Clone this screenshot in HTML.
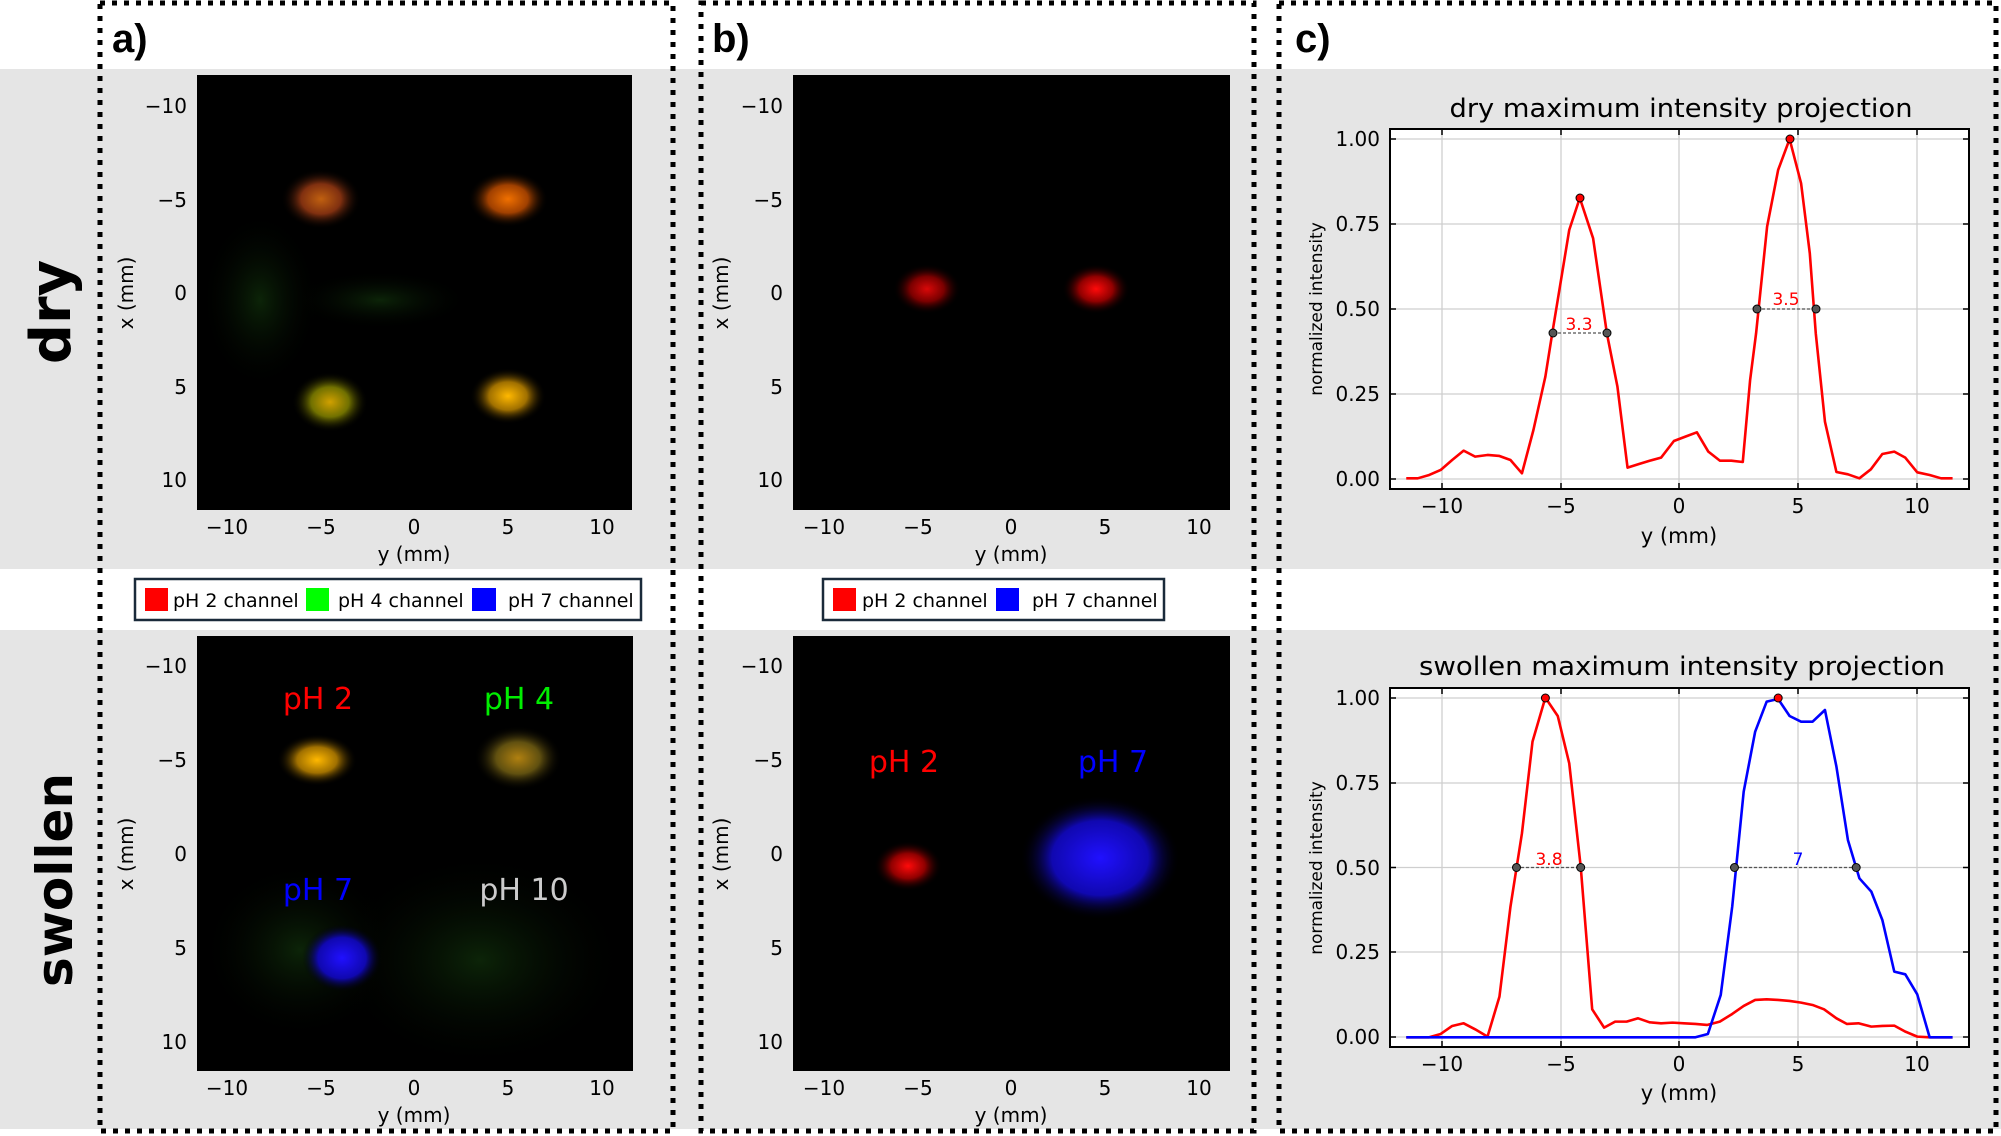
<!DOCTYPE html>
<html><head><meta charset="utf-8"><style>
html,body{margin:0;padding:0;background:#fff;}
svg{display:block;}
text{font-family:"DejaVu Sans","Liberation Sans",sans-serif;}
</style></head><body>
<svg width="2001" height="1136" viewBox="0 0 2001 1136" xmlns="http://www.w3.org/2000/svg">
<defs>
<radialGradient id="gOr"><stop offset="0" stop-color="#f07000"/><stop offset="0.5" stop-color="#a04000"/><stop offset="1" stop-color="#000" stop-opacity="0"/></radialGradient>
<radialGradient id="gOr2"><stop offset="0" stop-color="#c06010"/><stop offset="0.5" stop-color="#803010"/><stop offset="1" stop-color="#000" stop-opacity="0"/></radialGradient>
<radialGradient id="gYe"><stop offset="0" stop-color="#ffb800"/><stop offset="0.5" stop-color="#a07000"/><stop offset="1" stop-color="#000" stop-opacity="0"/></radialGradient>
<radialGradient id="gYe2"><stop offset="0" stop-color="#d0a000"/><stop offset="0.5" stop-color="#707000"/><stop offset="1" stop-color="#000" stop-opacity="0"/></radialGradient>
<radialGradient id="gOl"><stop offset="0" stop-color="#b08010"/><stop offset="0.5" stop-color="#605010"/><stop offset="1" stop-color="#000" stop-opacity="0"/></radialGradient>
<radialGradient id="gR"><stop offset="0" stop-color="#ff0a0a"/><stop offset="0.5" stop-color="#900000"/><stop offset="1" stop-color="#000" stop-opacity="0"/></radialGradient>
<radialGradient id="gB"><stop offset="0" stop-color="#2010ff"/><stop offset="0.6" stop-color="#1008b0"/><stop offset="1" stop-color="#000" stop-opacity="0"/></radialGradient>
<radialGradient id="gG"><stop offset="0" stop-color="#0c2408"/><stop offset="1" stop-color="#000" stop-opacity="0"/></radialGradient>
<clipPath id="cA1"><rect x="197" y="75" width="435" height="435"/></clipPath>
<clipPath id="cA2"><rect x="197" y="636" width="436" height="435"/></clipPath>
</defs>
<rect x="0" y="69" width="2001" height="500" fill="#e5e5e5"/>
<rect x="0" y="630" width="2001" height="499" fill="#e5e5e5"/>

<rect x="197" y="75" width="435" height="435" fill="#000"/>
<g clip-path="url(#cA1)">
<ellipse cx="260" cy="300" rx="60" ry="90" fill="url(#gG)"/>
<ellipse cx="380" cy="300" rx="90" ry="30" fill="url(#gG)"/>
<ellipse cx="321" cy="199" rx="40" ry="30" fill="url(#gOr2)"/>
<ellipse cx="508" cy="199" rx="40" ry="28" fill="url(#gOr)"/>
<ellipse cx="330" cy="402" rx="38" ry="30" fill="url(#gYe2)"/>
<ellipse cx="508" cy="396" rx="38" ry="28" fill="url(#gYe)"/>
</g>
<rect x="793" y="75" width="437" height="435" fill="#000"/>
<ellipse cx="927" cy="289" rx="34" ry="25" fill="url(#gR)" opacity="0.85"/>
<ellipse cx="1096" cy="289" rx="34" ry="25" fill="url(#gR)"/>
<rect x="197" y="636" width="436" height="435" fill="#000"/>
<g clip-path="url(#cA2)">
<ellipse cx="480" cy="960" rx="150" ry="110" fill="url(#gG)"/>
<ellipse cx="300" cy="950" rx="100" ry="90" fill="url(#gG)"/>
<ellipse cx="317" cy="760" rx="40" ry="26" fill="url(#gYe)"/>
<ellipse cx="518" cy="758" rx="44" ry="32" fill="url(#gOl)"/>
<ellipse cx="342" cy="958" rx="40" ry="34" fill="url(#gB)"/>
</g>
<rect x="793" y="636" width="437" height="435" fill="#000"/>
<ellipse cx="908" cy="866" rx="34" ry="25" fill="url(#gR)"/>
<ellipse cx="1100" cy="858" rx="80" ry="62" fill="url(#gB)"/>

<g font-size="20" fill="#000">
<g text-anchor="end">
<text x="187" y="113">−10</text><text x="187" y="207">−5</text><text x="187" y="300">0</text><text x="187" y="394">5</text><text x="187" y="487">10</text>
<text x="783" y="113">−10</text><text x="783" y="207">−5</text><text x="783" y="300">0</text><text x="783" y="394">5</text><text x="783" y="487">10</text>
<text x="187" y="673">−10</text><text x="187" y="767">−5</text><text x="187" y="861">0</text><text x="187" y="955">5</text><text x="187" y="1049">10</text>
<text x="783" y="673">−10</text><text x="783" y="767">−5</text><text x="783" y="861">0</text><text x="783" y="955">5</text><text x="783" y="1049">10</text>
</g>
<g text-anchor="middle">
<text x="227" y="534">−10</text><text x="321" y="534">−5</text><text x="414" y="534">0</text><text x="508" y="534">5</text><text x="602" y="534">10</text>
<text x="824" y="534">−10</text><text x="918" y="534">−5</text><text x="1011" y="534">0</text><text x="1105" y="534">5</text><text x="1199" y="534">10</text>
<text x="227" y="1095">−10</text><text x="321" y="1095">−5</text><text x="414" y="1095">0</text><text x="508" y="1095">5</text><text x="602" y="1095">10</text>
<text x="824" y="1095">−10</text><text x="918" y="1095">−5</text><text x="1011" y="1095">0</text><text x="1105" y="1095">5</text><text x="1199" y="1095">10</text>
<text x="414" y="561">y (mm)</text><text x="1011" y="561">y (mm)</text>
<text x="414" y="1122">y (mm)</text><text x="1011" y="1122">y (mm)</text>
<text transform="translate(133,293) rotate(-90)">x (mm)</text>
<text transform="translate(728,293) rotate(-90)">x (mm)</text>
<text transform="translate(133,854) rotate(-90)">x (mm)</text>
<text transform="translate(728,854) rotate(-90)">x (mm)</text>
</g>
</g>
<g font-size="30" text-anchor="middle">
<text x="318" y="709" fill="#ff0000">pH 2</text>
<text x="519" y="709" fill="#00ee00">pH 4</text>
<text x="318" y="900" fill="#0000ff">pH 7</text>
<text x="524" y="900" fill="#cccccc">pH 10</text>
<text x="904" y="772" fill="#ff0000">pH 2</text>
<text x="1113" y="772" fill="#0000ff">pH 7</text>
</g>

<rect x="135" y="579" width="506" height="41" fill="#fff" stroke="#1a2a3a" stroke-width="2.5"/>
<rect x="145" y="588" width="23" height="23" fill="#ff0000"/>
<rect x="306" y="588" width="23" height="23" fill="#00ff00"/>
<rect x="472" y="588" width="24" height="23" fill="#0000ff"/>
<g font-size="19" fill="#000">
<text x="173" y="607">pH 2 channel</text>
<text x="338" y="607">pH 4 channel</text>
<text x="508" y="607">pH 7 channel</text>
</g>
<rect x="823" y="579" width="341" height="41" fill="#fff" stroke="#1a2a3a" stroke-width="2.5"/>
<rect x="833" y="588" width="23" height="23" fill="#ff0000"/>
<rect x="996" y="588" width="23" height="23" fill="#0000ff"/>
<g font-size="19" fill="#000">
<text x="862" y="607">pH 2 channel</text>
<text x="1032" y="607">pH 7 channel</text>
</g>

<text transform="translate(70,312) rotate(-90)" font-size="56" font-weight="bold" text-anchor="middle">dry</text>
<text transform="translate(72,880) rotate(-90)" font-size="50" font-weight="bold" text-anchor="middle">swollen</text>

<g font-size="40" font-weight="bold">
<text x="112" y="52" style="font-family:'Liberation Sans',sans-serif">a)</text>
<text x="712" y="52" style="font-family:'Liberation Sans',sans-serif">b)</text>
<text x="1295" y="52" style="font-family:'Liberation Sans',sans-serif">c)</text>
</g>

<rect x="1390" y="129" width="579" height="360" fill="#fff"/>
<g stroke="#cfcfcf" stroke-width="1.3">
<line x1="1442" y1="129" x2="1442" y2="489"/><line x1="1561" y1="129" x2="1561" y2="489"/><line x1="1679" y1="129" x2="1679" y2="489"/><line x1="1798" y1="129" x2="1798" y2="489"/><line x1="1917" y1="129" x2="1917" y2="489"/>
<line x1="1390" y1="479" x2="1969" y2="479"/><line x1="1390" y1="394" x2="1969" y2="394"/><line x1="1390" y1="309" x2="1969" y2="309"/><line x1="1390" y1="224" x2="1969" y2="224"/><line x1="1390" y1="139" x2="1969" y2="139"/>
</g>
<g stroke="#000" stroke-width="1.5">
<path d="M1442 129v6M1561 129v6M1679 129v6M1798 129v6M1917 129v6M1442 489v-6M1561 489v-6M1679 489v-6M1798 489v-6M1917 489v-6M1390 479h6M1390 394h6M1390 309h6M1390 224h6M1390 139h6M1969 479h-6M1969 394h-6M1969 309h-6M1969 224h-6M1969 139h-6"/>
</g>
<rect x="1390" y="129" width="579" height="360" fill="none" stroke="#000" stroke-width="2"/>
<g transform="translate(1280,280) scale(0.4591,0.3333)">
<polyline fill="none" stroke="#ff0000" stroke-width="2.6" vector-effect="non-scaling-stroke" stroke-linejoin="round" points="275,595 300,595 325,585 350,570 375,540 400,512 425,530 452,525 478,528 502,540 527,580 552,450 578,290 593,160 630,-150 653,-246 682,-125 712,160 735,320 757,563 782,552 806,542 830,533 858,483 883,470 908,457 933,515 958,542 983,542 1008,546 1024,300 1037,160 1061,-160 1085,-330 1110,-423 1135,-290 1154,-80 1167,160 1187,425 1212,576 1237,583 1262,595 1287,568 1312,522 1338,515 1362,533 1388,577 1415,585 1440,595 1465,595"/>
</g>
<g stroke="#555" stroke-width="1.3" stroke-dasharray="3,2"><line x1="1553" y1="333" x2="1607" y2="333"/><line x1="1757" y1="309" x2="1816" y2="309"/></g>
<g fill="#555" stroke="#000" stroke-width="1">
<circle cx="1553" cy="333" r="4"/><circle cx="1607" cy="333" r="4"/><circle cx="1757" cy="309" r="4"/><circle cx="1816" cy="309" r="4"/>
</g>
<g fill="#ff0000" stroke="#000" stroke-width="1"><circle cx="1580" cy="198" r="4"/><circle cx="1790" cy="139" r="4"/></g>
<g font-size="17" fill="#ff0000" text-anchor="middle"><text x="1579" y="330">3.3</text><text x="1786" y="305">3.5</text></g>
<g font-size="20" fill="#000">
<g text-anchor="end"><text x="1380" y="486">0.00</text><text x="1380" y="401">0.25</text><text x="1380" y="316">0.50</text><text x="1380" y="231">0.75</text><text x="1380" y="146">1.00</text></g>
<g text-anchor="middle"><text x="1442" y="513">−10</text><text x="1561" y="513">−5</text><text x="1679" y="513">0</text><text x="1798" y="513">5</text><text x="1917" y="513">10</text>
<text x="1679" y="543" font-size="21">y (mm)</text>
<text x="1681" y="117" font-size="26" textLength="463" lengthAdjust="spacingAndGlyphs">dry maximum intensity projection</text>
<text transform="translate(1322,309) rotate(-90)" font-size="17">normalized intensity</text></g>
</g>

<rect x="1390" y="688" width="579" height="359" fill="#fff"/>
<g stroke="#cfcfcf" stroke-width="1.3">
<line x1="1442" y1="688" x2="1442" y2="1047"/><line x1="1561" y1="688" x2="1561" y2="1047"/><line x1="1679" y1="688" x2="1679" y2="1047"/><line x1="1798" y1="688" x2="1798" y2="1047"/><line x1="1917" y1="688" x2="1917" y2="1047"/>
<line x1="1390" y1="1037" x2="1969" y2="1037"/><line x1="1390" y1="952" x2="1969" y2="952"/><line x1="1390" y1="867.5" x2="1969" y2="867.5"/><line x1="1390" y1="783" x2="1969" y2="783"/><line x1="1390" y1="698" x2="1969" y2="698"/>
</g>
<g stroke="#000" stroke-width="1.5">
<path d="M1442 688v6M1561 688v6M1679 688v6M1798 688v6M1917 688v6M1442 1047v-6M1561 1047v-6M1679 1047v-6M1798 1047v-6M1917 1047v-6M1390 1037h6M1390 952h6M1390 867.5h6M1390 783h6M1390 698h6M1969 1037h-6M1969 952h-6M1969 867.5h-6M1969 783h-6M1969 698h-6"/>
</g>
<rect x="1390" y="688" width="579" height="359" fill="none" stroke="#000" stroke-width="2"/>
<g transform="translate(1280,640) scale(0.4591,0.3333)">
<polyline fill="none" stroke="#ff0000" stroke-width="2.6" vector-effect="non-scaling-stroke" stroke-linejoin="round" points="275,1192 325,1192 350,1182 375,1158 400,1150 425,1168 452,1190 478,1070 502,800 527,580 550,305 578,173 605,228 630,370 655,680 680,1108 706,1163 730,1145 755,1145 780,1135 805,1147 830,1150 855,1148 880,1150 905,1152 930,1155 958,1145 985,1122 1010,1098 1035,1080 1060,1078 1085,1080 1110,1083 1135,1088 1160,1095 1185,1108 1212,1135 1235,1152 1260,1150 1288,1160 1312,1158 1338,1157 1362,1175 1388,1190 1415,1192 1465,1192"/>
<polyline fill="none" stroke="#0000ff" stroke-width="2.6" vector-effect="non-scaling-stroke" stroke-linejoin="round" points="275,1192 905,1192 932,1182 960,1065 985,800 1010,455 1035,275 1060,185 1085,177 1110,228 1135,245 1160,245 1187,210 1212,380 1237,600 1262,715 1288,755 1312,840 1338,995 1362,1003 1388,1063 1415,1192 1465,1192"/>
</g>
<g stroke="#555" stroke-width="1.3" stroke-dasharray="3,2"><line x1="1516" y1="867.5" x2="1581" y2="867.5"/><line x1="1734" y1="867.5" x2="1856" y2="867.5"/></g>
<g fill="#555" stroke="#000" stroke-width="1">
<circle cx="1516.5" cy="867.5" r="4"/><circle cx="1580.7" cy="867.5" r="4"/><circle cx="1734.5" cy="867.5" r="4"/><circle cx="1856.2" cy="867.5" r="4"/>
</g>
<g fill="#ff0000" stroke="#000" stroke-width="1"><circle cx="1545.4" cy="698" r="4"/><circle cx="1778.2" cy="698" r="4"/></g>
<g font-size="17" text-anchor="middle"><text x="1549" y="865" fill="#ff0000">3.8</text><text x="1798" y="865" fill="#0000ff">7</text></g>
<g font-size="20" fill="#000">
<g text-anchor="end"><text x="1380" y="1044">0.00</text><text x="1380" y="959">0.25</text><text x="1380" y="875">0.50</text><text x="1380" y="790">0.75</text><text x="1380" y="705">1.00</text></g>
<g text-anchor="middle"><text x="1442" y="1071">−10</text><text x="1561" y="1071">−5</text><text x="1679" y="1071">0</text><text x="1798" y="1071">5</text><text x="1917" y="1071">10</text>
<text x="1679" y="1100" font-size="21">y (mm)</text>
<text x="1682" y="675" font-size="26" textLength="526" lengthAdjust="spacingAndGlyphs">swollen maximum intensity projection</text>
<text transform="translate(1322,868) rotate(-90)" font-size="17">normalized intensity</text></g>
</g>

<g fill="none" stroke="#000" stroke-width="5" stroke-dasharray="5,7">
<rect x="100" y="3" width="573" height="1128"/>
<rect x="701" y="3" width="553" height="1128"/>
<rect x="1279" y="3" width="717" height="1128"/>
</g>
</svg>
</body></html>
